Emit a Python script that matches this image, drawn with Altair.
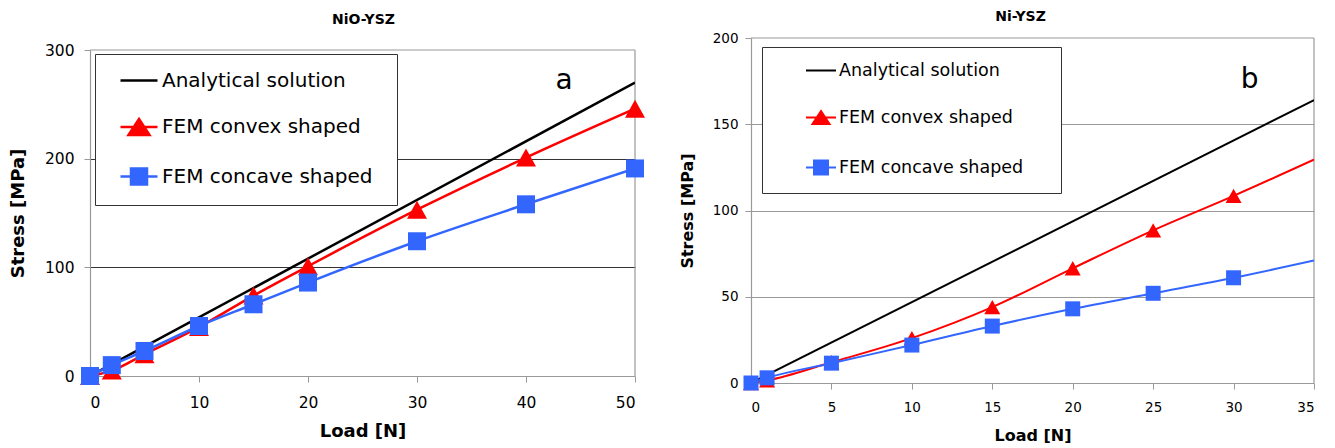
import altair as alt
import pandas as pd

# ---------------- data ----------------
series = ["Analytical solution", "FEM convex shaped", "FEM concave shaped"]
colors = ["#000000", "#ff0000", "#3366ff"]

# Panel a: NiO-YSZ
load_a = [0, 2, 5, 10, 15, 20, 30, 40, 50]
convex_a = [0, 5, 20, 45, 74, 101, 153, 201, 246]
concave_a = [0, 10, 23, 46, 66, 86, 124, 158, 191]
analytical_load_a = [0, 50]
analytical_a = [0, 270]
x_ticks_a = [0, 10, 20, 30, 40, 50]
y_ticks_a = [0, 100, 200, 300]

# Panel b: Ni-YSZ
load_b = [0, 1, 5, 10, 15, 20, 25, 30, 35]
convex_b = [0, 1.5, 12, 26, 44, 66.5, 88.5, 108.5, 129.5]
concave_b = [0, 3, 11.5, 22, 33, 43, 52, 61, 71]
analytical_load_b = [0, 35]
analytical_b = [0, 164]
x_ticks_b = [0, 5, 10, 15, 20, 25, 30, 35]
y_ticks_b = [0, 50, 100, 150, 200]

FONT = "DejaVu Sans"
FRAME = "#999999"


def tri_path(hw, top, bot):
    return f"M0,{top}L{hw},{bot}L{-hw},{bot}Z"


def sq_path(h):
    return f"M{-h},{-h}H{h}V{h}H{-h}Z"


def panel(p):
    rows = []
    for l, v in zip(p["a_load"], p["a_vals"]):
        rows.append({"load": l, "stress": v, "series": series[0]})
    for l, v in zip(p["load"], p["convex"]):
        rows.append({"load": l, "stress": v, "series": series[1]})
    for l, v in zip(p["load"], p["concave"]):
        rows.append({"load": l, "stress": v, "series": series[2]})
    df = pd.DataFrame(rows)

    xmin, xmax = p["x_dom"]
    ymin, ymax = p["y_dom"]
    yscale = dict(domain=p["y_dom"], nice=False, zero=False)
    if p.get("y_range"):
        yscale["range"] = p["y_range"]
    X = alt.X(
        "load:Q",
        scale=alt.Scale(domain=p["x_dom"], nice=False, zero=False),
        axis=alt.Axis(
            values=p["x_ticks"], title="Load [N]", grid=False,
            labelFontSize=p["tick_fs"], titleFontSize=p["xtitle_fs"],
            labelPadding=p["xlp"], titlePadding=p["xtp"], tickSize=6,
        ),
    )
    Y = alt.Y(
        "stress:Q",
        scale=alt.Scale(**yscale),
        axis=alt.Axis(
            values=p["y_ticks"], title="Stress [MPa]", grid=True,
            gridColor={
                "condition": {
                    "test": f"datum.value === {ymin} || datum.value === {ymax}",
                    "value": "transparent",
                },
                "value": p["grid_color"],
            },
            gridWidth=1.2,
            labelFontSize=p["tick_fs"], titleFontSize=p["ytitle_fs"],
            labelPadding=p["ylp"], titlePadding=p["ytp"], tickSize=6,
        ),
    )

    # plot-area frame (top and right edges) drawn through the scales
    frame_df = pd.DataFrame({
        "load": [xmin, xmax], "stress": [ymax, ymin],
        "load2": [xmax, xmax], "stress2": [ymax, ymax],
    })
    frame = (
        alt.Chart(frame_df)
        .mark_rule(color=FRAME, strokeWidth=1.2)
        .encode(x=X, y=Y, x2="load2:Q", y2="stress2:Q")
    )

    def line(i):
        return (
            alt.Chart(df)
            .transform_filter(f"datum.series === '{series[i]}'")
            .mark_line(interpolate="monotone", clip=True, strokeWidth=p["lw"], color=colors[i])
            .encode(x=X, y=Y)
        )

    mm = p["marker_max"]
    tri = (
        alt.Chart(df)
        .transform_filter(f"datum.series === '{series[1]}' && datum.load <= {mm}")
        .mark_point(filled=True, opacity=1, color=colors[1], shape=tri_path(1, -0.9, 0.9),
                    size=p["tri_size"])
        .encode(x=X, y=Y)
    )
    sq = (
        alt.Chart(df)
        .transform_filter(f"datum.series === '{series[2]}' && datum.load <= {mm}")
        .mark_point(filled=True, opacity=1, color=colors[2], shape="square",
                    size=p["sq_size"])
        .encode(x=X, y=Y)
    )
    letter_df = pd.DataFrame({"load": [p["letter_x"]], "stress": [p["letter_y"]], "t": [p["letter"]]})
    letter = (
        alt.Chart(letter_df)
        .mark_text(font=FONT, fontSize=28, align="center", baseline="alphabetic", color="black")
        .encode(x=X, y=Y, text="t:N")
    )

    s = p["lg_scale"]
    half = p["lg_line"] / 2 / s
    line_seg = f"M{-half},0H{half}"
    shapes = [
        line_seg,
        line_seg + tri_path(p["lg_tri_hw"] / s, -p["lg_tri_h"] / 2 / s, p["lg_tri_h"] / 2 / s),
        line_seg + sq_path(p["lg_sq"] / 2 / s),
    ]
    legend = alt.Legend(
        title="\u00a0", titleOrient="right", titleFontSize=10, titlePadding=p["lg_extra"],
        orient="none", legendX=p["lgx"], legendY=p["lgy"],
        strokeColor="#333333", fillColor="white", padding=p["lg_pad"],
        rowPadding=p["lg_row"], symbolOffset=p["lg_symoff"], labelOffset=p["lg_laboff"],
        labelFontSize=p["lg_fs"], labelFont=FONT, labelLimit=0,
        symbolSize=p["lg_symsize"], symbolStrokeWidth=p["lw"], labelColor="black",
    )
    leg_df = pd.DataFrame({"series": series})
    leg_layer = (
        alt.Chart(leg_df)
        .transform_filter("false")
        .mark_point(filled=True, opacity=1, strokeWidth=p["lw"])
        .encode(
            fill=alt.Fill("series:N", scale=alt.Scale(domain=series, range=colors), legend=legend),
            stroke=alt.Stroke("series:N", scale=alt.Scale(domain=series, range=colors), legend=legend),
            shape=alt.Shape("series:N", scale=alt.Scale(domain=series, range=shapes), legend=legend),
        )
    )

    return alt.layer(frame, line(0), line(1), tri, line(2), sq, letter, leg_layer).properties(
        width=p["w"], height=p["h"],
        title=alt.TitleParams(
            p["title"], font=FONT, fontSize=14, fontWeight="bold", color="black",
            offset=p["title_off"], frame="group", anchor="middle", dx=p["title_dx"],
        ),
    )


left = panel(dict(
    load=load_a, convex=convex_a, concave=concave_a,
    a_load=analytical_load_a, a_vals=analytical_a,
    marker_max=50, x_dom=[0, 50], y_dom=[0, 300], x_ticks=x_ticks_a, y_ticks=y_ticks_a,
    y_range=[338, 12],
    title="NiO-YSZ", title_off=11, title_dx=1, letter="a", letter_x=43.5, letter_y=264,
    w=545, h=338, tick_fs=15.5, xtitle_fs=18, ytitle_fs=18, xlp=13, xtp=12, ylp=10, ytp=17,
    grid_color="#333333", lw=2.5, tri_size=400, sq_size=324,
    lgx=5, lgy=16, lg_scale=10, lg_symsize=400, lg_line=37, lg_tri_hw=10.5, lg_tri_h=16, lg_sq=16,
    lg_pad=15, lg_row=22.5, lg_symoff=17.5, lg_laboff=11.5, lg_fs=20, lg_extra=10,
))

right = panel(dict(
    load=load_b, convex=convex_b, concave=concave_b,
    a_load=analytical_load_b, a_vals=analytical_b,
    marker_max=30, x_dom=[0, 35], y_dom=[0, 200], x_ticks=x_ticks_b, y_ticks=y_ticks_b,
    title="Ni-YSZ", title_off=7, title_dx=-12, letter="b", letter_x=31, letter_y=171,
    w=563, h=345, tick_fs=13.5, xtitle_fs=16, ytitle_fs=16, xlp=11, xtp=14, ylp=7, ytp=17,
    grid_color="#999999", lw=2, tri_size=256, sq_size=225,
    lgx=11, lgy=9, lg_scale=8.5, lg_symsize=289, lg_line=30, lg_tri_hw=8.5, lg_tri_h=13, lg_sq=14,
    lg_pad=14, lg_row=28, lg_symoff=35.5, lg_laboff=8.5, lg_fs=17.5, lg_extra=24,
))

chart = (
    alt.hconcat(left, right, spacing=34)
    .resolve_scale(fill="independent", stroke="independent", shape="independent")
    .resolve_legend(fill="independent", stroke="independent", shape="independent")
    .properties(padding={"left": 1, "top": 2, "right": 5, "bottom": 5}, background="white")
    .configure_view(stroke=None)
    .configure_axis(
        domainColor=FRAME, tickColor=FRAME, domainWidth=1.2,
        labelColor="black", titleColor="black", labelFont=FONT, titleFont=FONT,
        titleFontWeight="bold", labelFontWeight="normal",
    )
)

chart.save("out.html", embed_options={"renderer": "svg", "actions": False})
